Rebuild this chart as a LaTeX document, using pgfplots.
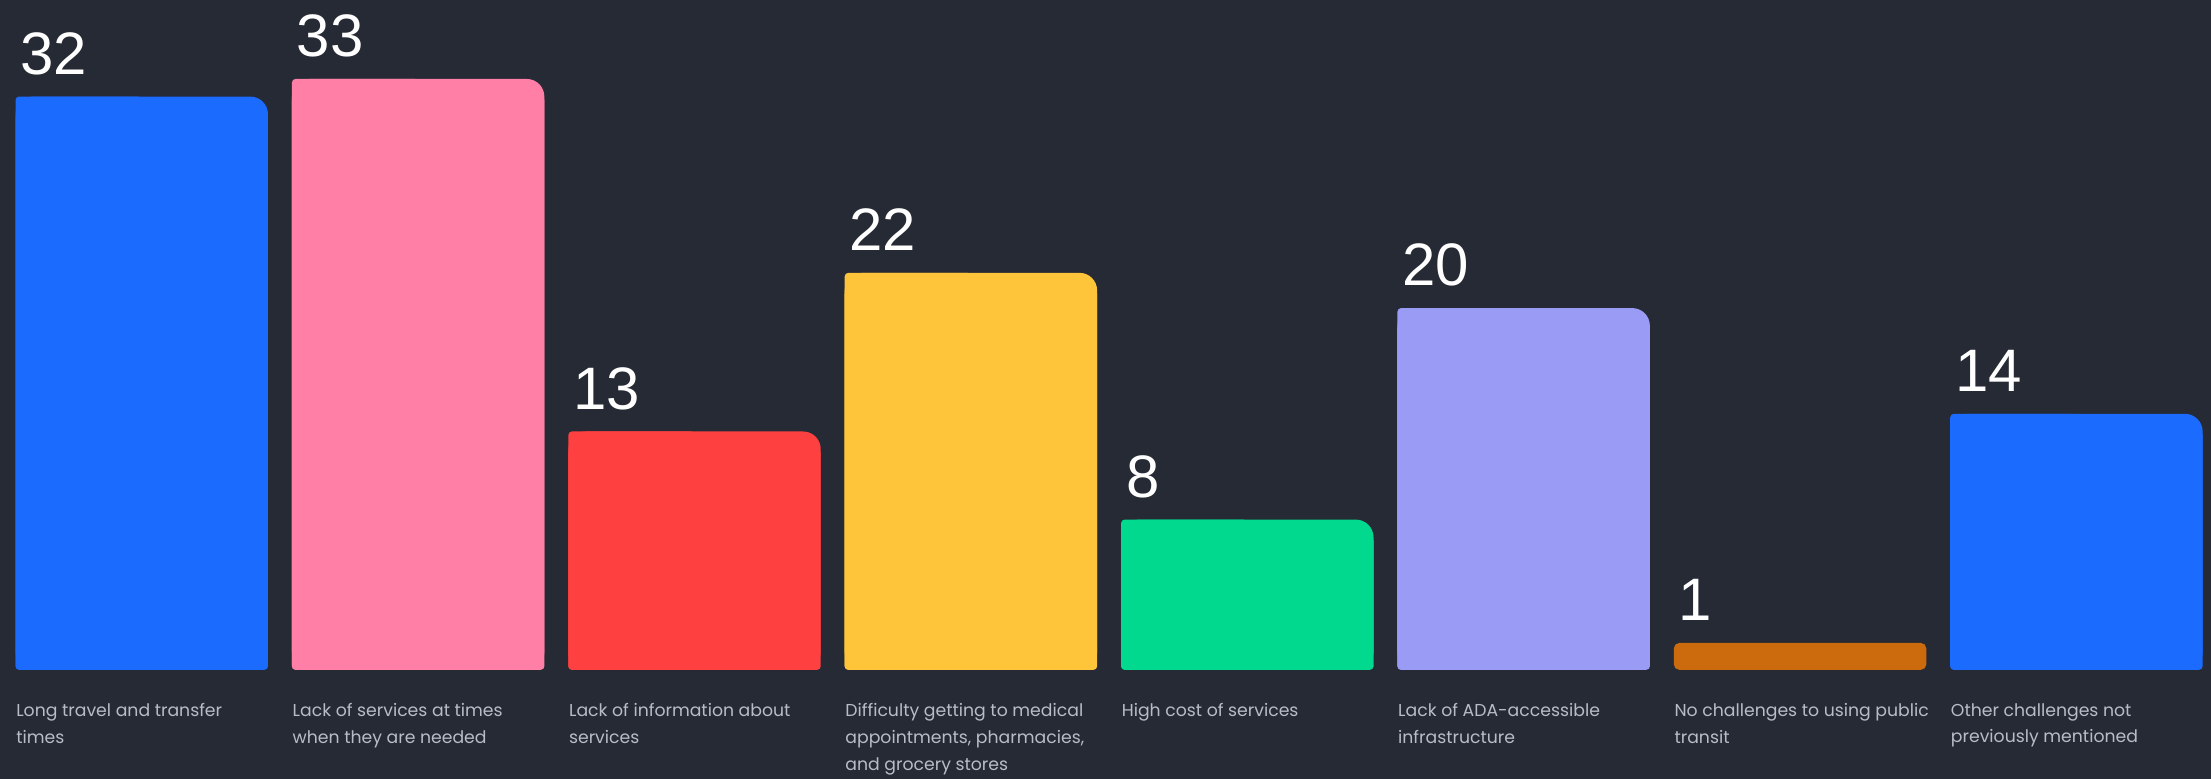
\documentclass[border=0pt]{standalone}
\usepackage{fontspec}
\usepackage{pgfplots}
\usepackage{pgfplotstable}
\pgfplotsset{compat=1.18}
\usetikzlibrary{backgrounds}
\newfontfamily\labfont{Poppins}
\newfontfamily\numfont{Liberation Sans}
\definecolor{bg}{HTML}{252A34}
\definecolor{labgray}{HTML}{B8BCC4}
\definecolor{c0}{HTML}{1B6BFF}
\definecolor{c1}{HTML}{FF7FA6}
\definecolor{c2}{HTML}{FF4040}
\definecolor{c3}{HTML}{FFC53A}
\definecolor{c4}{HTML}{00D98E}
\definecolor{c5}{HTML}{9A9BF4}
\definecolor{c6}{HTML}{CC6A0E}
\definecolor{c7}{HTML}{1B6BFF}

\pgfplotstableread{
x v
0 32
1 33
2 13
3 22
4 8
5 20
6 1
7 14
}\data

% bars are drawn from a base 0.52 units below the zero level, as in the reference
\def\base{0.52}
\newcommand\mybar[2]{%
\addplot[ybar, bar width=71.6pt, bar shift=0pt, fill=#2, draw=none, rounded corners=5pt,
  nodes near coords, point meta=explicit symbolic]
  table[x=x, y expr=\thisrow{v}+\base, meta=v, restrict x to domain=#1:#1]{\data};
\addplot[ybar, bar width=35.8pt, bar shift=-17.9pt, fill=#2, draw=none, rounded corners=1pt]
  table[x=x, y expr=\thisrow{v}+\base, restrict x to domain=#1:#1]{\data};
\addplot[ybar, bar width=71.6pt, bar shift=0pt, fill=#2, draw=none, rounded corners=1pt]
  table[x=x, y expr=\thisrow{v}+\base-1, restrict x to domain=#1:#1]{\data};
}

\begin{document}
\begin{tikzpicture}
\begin{axis}[
  scale only axis,
  width=627.2pt, height=190pt,
  xmin=-0.513, xmax=7.487,
  ymin=0, ymax=38,
  clip=false,
  axis line style={draw=none},
  ytick=\empty,
  major tick length=0pt,
  xtick={0,...,7},
  xticklabels={
    {Long travel and transfer\\times},
    {Lack of services at times\\when they are needed},
    {Lack of information about\\services},
    {Difficulty getting to medical\\appointments, pharmacies,\\and grocery stores},
    {High cost of services},
    {Lack of ADA-accessible\\infrastructure},
    {No challenges to using public\\transit},
    {Other challenges not\\previously mentioned}},
  xticklabel style={font=\labfont\fontsize{4.9}{7.6}\selectfont, text=labgray,
    anchor=north west, align=left, inner sep=0pt, xshift=-35.8pt, yshift=-9.3pt},
  every node near coord/.append style={font=\numfont\fontsize{17}{17}\selectfont,
    text=white, anchor=base west, inner sep=0pt, xshift=-34.6pt, yshift=6.3pt},
]
\coordinate (bl) at (rel axis cs:0,-0.163);
\coordinate (tr) at (rel axis cs:1,1);
\mybar{0}{c0}
\mybar{1}{c1}
\mybar{2}{c2}
\mybar{3}{c3}
\mybar{4}{c4}
\mybar{5}{c5}
\addplot[ybar, bar width=71.6pt, bar shift=0pt, fill=c6, draw=none, rounded corners=1.5pt,
  nodes near coords, point meta=explicit symbolic]
  table[x=x, y expr=\thisrow{v}+\base, meta=v, restrict x to domain=6:6]{\data};
\mybar{7}{c7}
\end{axis}
\begin{scope}[on background layer]
\fill[bg] (bl) rectangle (tr);
\end{scope}
\pgfresetboundingbox
\useasboundingbox (bl) rectangle (tr);
\end{tikzpicture}
\end{document}
